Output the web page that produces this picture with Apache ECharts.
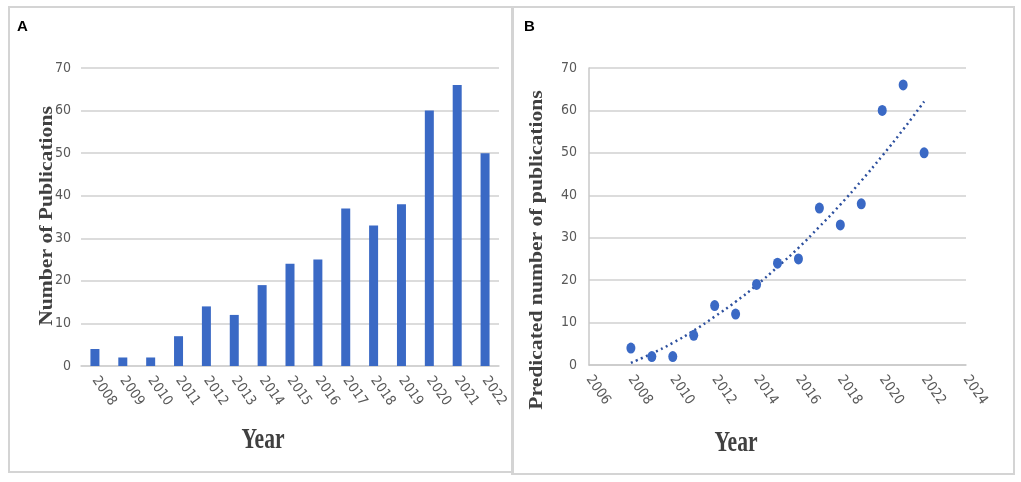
<!DOCTYPE html>
<html>
<head>
<meta charset="utf-8">
<script src="https://cdn.jsdelivr.net/npm/echarts@6/dist/echarts.min.js"></script>
<style>
  html, body { margin: 0; padding: 0; background: #fff; }
  #chart { width: 1021px; height: 482px; }
</style>
</head>
<body>
<div id="chart"></div>
<script>
(function () {
    'use strict';

    var YEARS = ['2008', '2009', '2010', '2011', '2012', '2013', '2014', '2015',
                 '2016', '2017', '2018', '2019', '2020', '2021', '2022'];
    var PUBLICATIONS = [4, 2, 2, 7, 14, 12, 19, 24, 25, 37, 33, 38, 60, 66, 50];
    // dotted trend line in panel B at each year
    var TREND = [0.5, 2.7, 5.2, 8.1, 11.4, 14.9, 18.8, 23.1, 27.6, 32.6, 37.8, 43.4, 49.3, 55.5, 62.1];

    var BLUE = '#3a69c5';
    var TICK_FONT = '"Liberation Sans Narrow", "DejaVu Sans Condensed", "Roboto", sans-serif';
    var SERIF = '"Liberation Serif", "DejaVu Serif", serif';

    var chart = echarts.init(document.getElementById('chart'));

    var tickLabel = { color: '#595959', fontFamily: TICK_FONT, fontSize: 14 };
    var gridLine = { lineStyle: { color: '#d0d0d0', width: 1.5 } };

    chart.setOption({
        animation: false,
        grid: [
            { left: 81, right: 522, top: 68, bottom: 116 },
            { left: 589, right: 55, top: 68, bottom: 117 }
        ],
        xAxis: [{
            gridIndex: 0,
            type: 'category',
            data: YEARS,
            axisTick: { show: false },
            axisLine: { lineStyle: { color: '#d0d0d0', width: 1.5 } },
            axisLabel: Object.assign({ rotate: -55, margin: 12, interval: 0 }, tickLabel)
        }, {
            gridIndex: 1,
            type: 'value',
            min: 2006,
            max: 2024,
            interval: 2,
            splitLine: { show: false },
            axisTick: { show: false },
            axisLine: { show: true, lineStyle: { color: '#c8c8c8', width: 1.5 } },
            axisLabel: Object.assign({
                rotate: -55, margin: 12,
                formatter: function (v) { return String(v); }
            }, tickLabel)
        }],
        yAxis: [{
            gridIndex: 0,
            type: 'value',
            min: 0,
            max: 70,
            interval: 10,
            axisLine: { show: false },
            axisTick: { show: false },
            splitLine: gridLine,
            axisLabel: Object.assign({ margin: 10 }, tickLabel)
        }, {
            gridIndex: 1,
            type: 'value',
            min: 0,
            max: 70,
            interval: 10,
            axisLine: { show: true, lineStyle: { color: '#c8c8c8', width: 1.5 } },
            axisTick: { show: false },
            splitLine: gridLine,
            axisLabel: Object.assign({ margin: 12 }, tickLabel)
        }],
        series: [{
            type: 'bar',
            xAxisIndex: 0,
            yAxisIndex: 0,
            data: PUBLICATIONS,
            barWidth: 9,
            itemStyle: { color: BLUE }
        }, {
            type: 'line',
            xAxisIndex: 1,
            yAxisIndex: 1,
            data: YEARS.map(function (y, i) { return [+y, TREND[i]]; }),
            smooth: true,
            showSymbol: false,
            lineStyle: { color: '#2c4f9e', width: 2.5, type: [2, 3.5] },
            z: 2
        }, {
            type: 'scatter',
            xAxisIndex: 1,
            yAxisIndex: 1,
            data: YEARS.map(function (y, i) { return [+y, PUBLICATIONS[i]]; }),
            symbolSize: [9, 11],
            itemStyle: { color: BLUE, opacity: 1 },
            z: 3
        }],
        graphic: [
            { type: 'rect', shape: { x: 9, y: 7, width: 504, height: 465 },
              style: { fill: 'none', stroke: '#d4d4d4', lineWidth: 2 } },
            { type: 'rect', shape: { x: 512, y: 7, width: 502, height: 467 },
              style: { fill: 'none', stroke: '#d4d4d4', lineWidth: 2 } },
            { type: 'text', left: 17, top: 19,
              style: { text: 'A', font: 'bold 15px "Liberation Sans", Arial, sans-serif', fill: '#000' } },
            { type: 'text', left: 524, top: 19,
              style: { text: 'B', font: 'bold 15px "Liberation Sans", Arial, sans-serif', fill: '#000' } },
            // rotated axis titles, stretched along their length like the source image
            { type: 'text', x: 47, y: 216, rotation: Math.PI / 2, scaleX: 1.2,
              style: { text: 'Number of Publications', font: 'bold 18px ' + SERIF, fill: '#404040',
                       align: 'center', verticalAlign: 'middle' } },
            { type: 'text', x: 537, y: 250, rotation: Math.PI / 2, scaleX: 1.2,
              style: { text: 'Predicated number of publications', font: 'bold 18px ' + SERIF, fill: '#404040',
                       align: 'center', verticalAlign: 'middle' } },
            { type: 'text', x: 263, y: 440, scaleX: 0.72,
              style: { text: 'Year', font: 'bold 30px ' + SERIF, fill: '#404040',
                       align: 'center', verticalAlign: 'middle' } },
            { type: 'text', x: 736, y: 443, scaleX: 0.72,
              style: { text: 'Year', font: 'bold 30px ' + SERIF, fill: '#404040',
                       align: 'center', verticalAlign: 'middle' } }
        ]
    });
})();
</script>
</body>
</html>
